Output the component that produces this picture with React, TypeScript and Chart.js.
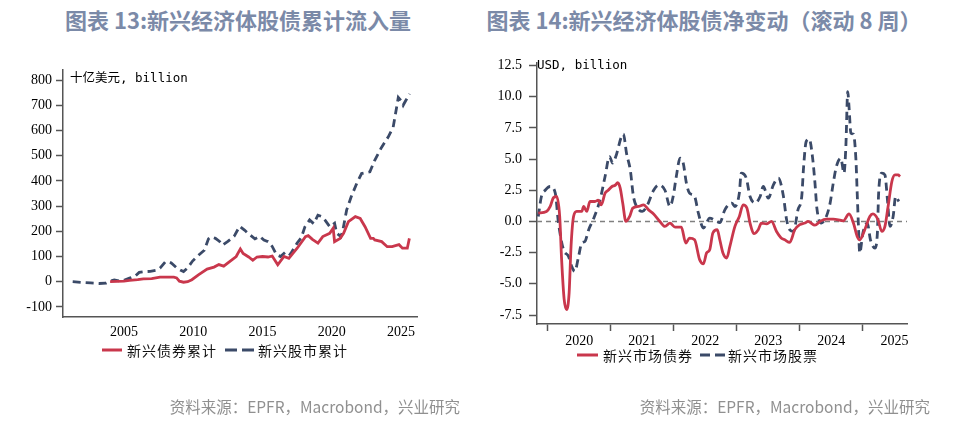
import React, { useEffect, useRef } from "react";
import { Chart, registerables } from "chart.js";

Chart.register(...registerables);

// ---------- Left chart: cumulative flows (USD bn) ----------
const bondCumYears = [2004.0, 2004.5, 2005.0, 2005.4, 2006.0, 2006.4, 2007.0, 2007.6, 2008.0, 2008.6, 2008.8, 2009.0, 2009.3, 2009.6, 2009.9, 2010.4, 2011.0, 2011.5, 2011.85, 2012.2, 2012.6, 2013.1, 2013.4, 2013.6, 2014.0, 2014.3, 2014.6, 2015.0, 2015.4, 2015.7, 2016.1, 2016.55, 2016.9, 2017.5, 2018.1, 2018.3, 2018.6, 2019.0, 2019.35, 2019.85, 2020.1, 2020.2, 2020.6, 2020.85, 2021.2, 2021.7, 2022.05, 2022.4, 2022.8, 2023.0, 2023.1, 2023.6, 2024.0, 2024.35, 2024.85, 2025.1, 2025.45, 2025.6];
const bondCumValues = [0, 1, 2, 5, 8, 11, 12, 18, 18, 18, 15, 2, -2, 0, 8, 28, 50, 58, 68, 62, 79, 100, 130, 112, 98, 85, 98, 100, 98, 102, 67, 100, 93, 133, 179, 183, 168, 153, 179, 192, 212, 159, 172, 192, 238, 258, 251, 218, 172, 172, 166, 159, 139, 139, 147, 133, 133, 172];

const equityCumYears = [2001.3, 2002.0, 2002.6, 2003.2, 2003.7, 2004.0, 2004.3, 2004.7, 2005.0, 2005.4, 2005.8, 2006.1, 2006.5, 2006.9, 2007.3, 2007.6, 2008.0, 2008.4, 2008.8, 2009.1, 2009.3, 2009.6, 2009.95, 2010.4, 2010.8, 2011.1, 2011.3, 2011.6, 2011.9, 2012.1, 2012.5, 2012.95, 2013.35, 2013.7, 2014.0, 2014.45, 2014.8, 2015.1, 2015.4, 2015.7, 2016.0, 2016.3, 2016.7, 2017.0, 2017.5, 2017.8, 2018.06, 2018.4, 2018.7, 2019.0, 2019.3, 2019.5, 2019.86, 2020.2, 2020.35, 2020.66, 2020.8, 2021.07, 2021.4, 2021.8, 2022.15, 2022.75, 2023.1, 2023.6, 2024.07, 2024.43, 2024.68, 2024.8, 2025.0, 2025.15, 2025.35, 2025.63];
const equityCumValues = [0, -3, -5, -7, -6, 2, 7, 3, 6, 14, 22, 37, 40, 41, 45, 54, 80, 75, 55, 45, 40, 55, 82, 106, 125, 170, 178, 172, 160, 145, 160, 180, 220, 205, 190, 170, 180, 165, 159, 140, 108, 100, 120, 108, 153, 175, 218, 245, 230, 264, 258, 245, 218, 232, 193, 179, 205, 284, 337, 390, 429, 436, 482, 534, 574, 613, 692, 731, 718, 700, 720, 745];

const leftXTicks = [2005, 2010, 2015, 2020, 2025];
const leftYTicks = [-100, 0, 100, 200, 300, 400, 500, 600, 700, 800];

// ---------- Right chart: net change, rolling 8 weeks (USD bn) ----------
const bondNetYears = [2019.85, 2019.98, 2020.04, 2020.09, 2020.14, 2020.19, 2020.22, 2020.26, 2020.30, 2020.34, 2020.37, 2020.41, 2020.46, 2020.54, 2020.57, 2020.62, 2020.67, 2020.75, 2020.80, 2020.85, 2020.91, 2020.96, 2021.02, 2021.07, 2021.11, 2021.15, 2021.19, 2021.24, 2021.30, 2021.35, 2021.44, 2021.52, 2021.60, 2021.68, 2021.78, 2021.86, 2021.94, 2022.02, 2022.12, 2022.19, 2022.25, 2022.33, 2022.41, 2022.47, 2022.52, 2022.57, 2022.62, 2022.69, 2022.73, 2022.78, 2022.84, 2022.89, 2022.97, 2023.04, 2023.10, 2023.16, 2023.21, 2023.27, 2023.34, 2023.39, 2023.47, 2023.55, 2023.63, 2023.70, 2023.76, 2023.84, 2023.92, 2024.00, 2024.08, 2024.13, 2024.24, 2024.32, 2024.42, 2024.53, 2024.69, 2024.78, 2024.85, 2024.91, 2024.95, 2025.03, 2025.11, 2025.16, 2025.24, 2025.30, 2025.35, 2025.40, 2025.46, 2025.51, 2025.56, 2025.59];
const bondNetValues = [0.67, 0.8, 1.2, 1.9, 2.0, 0.4, -3.0, -6.2, -7.06, -5.7, -2.0, 0.4, 0.8, 0.8, 1.2, 0.8, 1.6, 1.6, 1.7, 1.33, 2.27, 2.5, 2.8, 2.9, 3.1, 2.67, 1.47, 0, 0.4, 1.07, 1.2, 1.33, 0.93, 0.6, 0, -0.4, -0.13, -0.45, -0.45, -1.73, -1.33, -1.47, -3.06, -3.4, -2.53, -2.26, -0.93, -0.66, -1.47, -2.53, -2.93, -2.0, -0.4, 0.4, 1.33, 1.07, -0.13, -0.98, -0.66, -0.13, -0.2, 0.0, -0.8, -1.3, -1.47, -1.68, -0.66, -0.26, -0.13, 0, -0.3, 0, 0.19, 0.19, 0.05, 0.6, -0.13, -1.2, -1.47, -0.66, 0.4, 0.6, 0.13, -0.8, -0.4, 1.2, 3.2, 3.73, 3.73, 3.6];

const equityNetYears = [2019.85, 2019.90, 2019.96, 2020.04, 2020.12, 2020.17, 2020.25, 2020.33, 2020.38, 2020.43, 2020.49, 2020.54, 2020.59, 2020.65, 2020.72, 2020.83, 2020.91, 2020.98, 2021.03, 2021.08, 2021.17, 2021.20, 2021.25, 2021.31, 2021.36, 2021.41, 2021.50, 2021.57, 2021.68, 2021.76, 2021.86, 2021.94, 2021.99, 2022.04, 2022.10, 2022.15, 2022.20, 2022.25, 2022.33, 2022.39, 2022.47, 2022.57, 2022.65, 2022.73, 2022.81, 2022.92, 2022.97, 2023.04, 2023.07, 2023.15, 2023.21, 2023.29, 2023.37, 2023.42, 2023.50, 2023.58, 2023.66, 2023.74, 2023.79, 2023.84, 2023.90, 2023.97, 2024.03, 2024.06, 2024.10, 2024.15, 2024.20, 2024.24, 2024.27, 2024.34, 2024.42, 2024.48, 2024.53, 2024.58, 2024.65, 2024.70, 2024.73, 2024.76, 2024.78, 2024.81, 2024.85, 2024.89, 2024.91, 2024.93, 2024.95, 2025.00, 2025.07, 2025.12, 2025.19, 2025.23, 2025.25, 2025.30, 2025.35, 2025.39, 2025.43, 2025.48, 2025.52, 2025.57];
const equityNetValues = [0.4, 2.0, 2.5, 2.8, 2.27, -0.1, -2.26, -2.8, -3.6, -4.0, -2.8, -1.73, -1.6, -0.66, 0.13, 1.73, 3.6, 5.2, 4.67, 5.2, 6.8, 7.0, 5.47, 4.13, 2.0, 1.2, 0.8, 1.2, 2.5, 2.93, 2.5, 1.2, 2.0, 3.6, 5.07, 4.67, 3.07, 2.27, 2.0, 0.67, -0.53, 0.27, 0.1, -0.1, 0.93, 1.47, 1.2, 2.27, 3.87, 3.47, 2.0, 1.47, 2.0, 2.8, 1.87, 2.93, 3.47, 2.0, 0.13, -0.67, -0.8, 0.93, 2.0, 4.4, 6.4, 6.6, 5.2, 3.07, 1.07, -0.13, 0.4, 1.47, 3.07, 4.4, 5.07, 3.87, 6.0, 10.4, 9.2, 7.07, 7.0, 4.93, 2.27, -0.4, -2.53, -0.93, -0.13, -1.47, -2.13, -0.93, 2.27, 3.87, 3.73, 1.73, -0.4, 0.4, 2.0, 1.6];

const rightXTicks = [2020, 2021, 2022, 2023, 2024, 2025];
const rightYTicks = [-7.5, -5, -2.5, 0, 2.5, 5, 7.5, 10, 12.5];

// ---------- Styles ----------
const RED = "#c9374c";
const NAVY = "#3b4a68";
const AXIS = "#555555";
const TITLE = "#7b8aa8";
const SERIF = "'Liberation Serif', 'Times New Roman', serif";
const CJK = "'Noto Sans CJK SC', 'Noto Sans', sans-serif";
const MONO = "'DejaVu Sans Mono', 'Liberation Mono', 'Noto Sans CJK SC', monospace";

const zip = (xs: number[], ys: number[]) => xs.map((x, i) => ({ x, y: ys[i] }));

const zeroLine = {
  id: "zeroLine",
  beforeDatasetsDraw(chart: any) {
    const ys = chart.scales.y;
    const { left, right } = chart.chartArea;
    const y = ys.getPixelForValue(0);
    const ctx = chart.ctx;
    ctx.save();
    ctx.setLineDash([5, 4]);
    ctx.strokeStyle = "#808080";
    ctx.lineWidth = 1.5;
    ctx.beginPath();
    ctx.moveTo(left, y);
    ctx.lineTo(right, y);
    ctx.stroke();
    ctx.restore();
  },
};

function LeftChart() {
  const ref = useRef<HTMLCanvasElement | null>(null);
  useEffect(() => {
    if (!ref.current) return;
    const chart = new Chart(ref.current, {
      type: "line",
      data: {
        datasets: [
          {
            label: "新兴债券累计",
            data: zip(bondCumYears, bondCumValues),
            borderColor: RED,
            borderWidth: 2.8,
            pointRadius: 0,
            tension: 0,
          },
          {
            label: "新兴股市累计",
            data: zip(equityCumYears, equityCumValues),
            borderColor: NAVY,
            borderWidth: 2.8,
            borderDash: [8, 5],
            pointRadius: 0,
            tension: 0,
          },
        ],
      },
      options: {
        animation: false,
        responsive: false,
        maintainAspectRatio: false,
        layout: { padding: { left: 0, right: 63, top: 70, bottom: 0 } },
        plugins: { legend: { display: false }, tooltip: { enabled: false } },
        scales: {
          x: {
            type: "linear",
            min: 2000.6,
            max: 2026.15,
            afterBuildTicks: (s: any) => {
              s.ticks = leftXTicks.map((v) => ({ value: v }));
            },
            afterFit: (s: any) => {
              s.height = 104;
            },
            grid: { display: false, drawTicks: false },
            border: { display: true, color: AXIS, width: 1.5 },
            ticks: {
              color: "#000",
              font: { family: SERIF, size: 14 },
              padding: 7,
              maxRotation: 0,
              autoSkip: false,
              callback: (v: any) => String(v),
            },
          },
          y: {
            type: "linear",
            min: -140,
            max: 840,
            afterBuildTicks: (s: any) => {
              s.ticks = leftYTicks.map((v) => ({ value: v }));
            },
            afterFit: (s: any) => {
              s.width = 63;
            },
            grid: { drawOnChartArea: false, drawTicks: true, tickLength: 7, color: AXIS, tickColor: AXIS, tickWidth: 1.5 },
            border: { display: true, color: AXIS, width: 1.5 },
            ticks: {
              color: "#000",
              font: { family: SERIF, size: 14 },
              padding: 4,
              autoSkip: false,
              callback: (v: any) => String(v),
            },
          },
        },
      } as any,
    });
    return () => chart.destroy();
  }, []);
  return <canvas ref={ref} width={480} height={421} style={{ position: "absolute", left: 0, top: 0, width: 480, height: 421, display: "block" }} />;
}

function RightChart() {
  const ref = useRef<HTMLCanvasElement | null>(null);
  useEffect(() => {
    if (!ref.current) return;
    const chart = new Chart(ref.current, {
      type: "line",
      data: {
        datasets: [
          {
            label: "新兴市场债券",
            data: zip(bondNetYears, bondNetValues),
            borderColor: RED,
            borderWidth: 2.8,
            pointRadius: 0,
            cubicInterpolationMode: "monotone",
          },
          {
            label: "新兴市场股票",
            data: zip(equityNetYears, equityNetValues),
            borderColor: NAVY,
            borderWidth: 2.8,
            borderDash: [8, 5],
            pointRadius: 0,
            cubicInterpolationMode: "monotone",
          },
        ],
      },
      options: {
        animation: false,
        responsive: false,
        maintainAspectRatio: false,
        layout: { padding: { left: 0, right: 52, top: 63, bottom: 0 } },
        plugins: { legend: { display: false }, tooltip: { enabled: false } },
        scales: {
          x: {
            type: "linear",
            min: 2019.83,
            max: 2025.7,
            afterBuildTicks: (s: any) => {
              s.ticks = rightXTicks.map((v) => ({ value: v }));
            },
            afterFit: (s: any) => {
              s.height = 97;
            },
            grid: { drawOnChartArea: false, drawTicks: true, tickLength: 7, color: AXIS, tickColor: AXIS, tickWidth: 1.5 },
            border: { display: true, color: AXIS, width: 1.5 },
            ticks: {
              color: "#000",
              font: { family: SERIF, size: 14 },
              padding: 2,
              labelOffset: 31.5,
              maxRotation: 0,
              autoSkip: false,
              callback: (v: any) => String(v),
            },
          },
          y: {
            type: "linear",
            min: -8.22,
            max: 12.7,
            afterBuildTicks: (s: any) => {
              s.ticks = rightYTicks.map((v) => ({ value: v }));
            },
            afterFit: (s: any) => {
              s.width = 57;
            },
            grid: { drawOnChartArea: false, drawTicks: true, tickLength: 8, color: AXIS, tickColor: AXIS, tickWidth: 1.5 },
            border: { display: true, color: AXIS, width: 1.5 },
            ticks: {
              color: "#000",
              font: { family: SERIF, size: 14 },
              padding: 7,
              autoSkip: false,
              callback: (v: any) => Number(v).toFixed(1),
            },
          },
        },
      } as any,
      plugins: [zeroLine],
    });
    return () => chart.destroy();
  }, []);
  return <canvas ref={ref} width={479} height={421} style={{ position: "absolute", left: 480, top: 0, width: 479, height: 421, display: "block" }} />;
}

const abs = (s: React.CSSProperties): React.CSSProperties => ({ position: "absolute", whiteSpace: "nowrap", ...s });

function Legend({ left, top, items }: { left: number; top: number; items: { label: string; color: string; dash?: string; w: number; gapBefore: number; gapAfter: number }[] }) {
  return (
    <div style={abs({ left, top, height: 18, display: "flex", alignItems: "center", fontFamily: CJK, fontSize: 14, letterSpacing: 1, color: "#111" })}>
      {items.map((it, i) => (
        <React.Fragment key={i}>
          <svg width={it.w} height={6} style={{ marginLeft: it.gapBefore, display: "block" }}>
            <line x1={0} y1={3} x2={it.w} y2={3} stroke={it.color} strokeWidth={3} strokeDasharray={it.dash} />
          </svg>
          <span style={{ marginLeft: it.gapAfter, lineHeight: "18px" }}>{it.label}</span>
        </React.Fragment>
      ))}
    </div>
  );
}

export default function App() {
  return (
    <div style={{ position: "absolute", left: 0, top: 0, width: 959, height: 421, background: "#fff", overflow: "hidden" }}>
      <div style={abs({ left: 0, top: 4, width: 476, textAlign: "center", fontFamily: CJK, fontWeight: 700, fontSize: 22, lineHeight: "30px", color: TITLE })}>
        图表 13:新兴经济体股债累计流入量
      </div>
      <div style={abs({ left: 454, top: 4, width: 500, textAlign: "center", fontFamily: CJK, fontWeight: 700, fontSize: 22, lineHeight: "30px", color: TITLE })}>
        图表 14:新兴经济体股债净变动（滚动 8 周）
      </div>
      <LeftChart />
      <RightChart />
      <div style={abs({ left: 70, top: 70, fontFamily: MONO, fontSize: 12.5, lineHeight: "16px", color: "#000" })}>十亿美元, billion</div>
      <div style={abs({ left: 537, top: 57, fontFamily: MONO, fontSize: 12.5, lineHeight: "16px", color: "#000" })}>USD, billion</div>
      <Legend
        left={102}
        top={341}
        items={[
          { label: "新兴债券累计", color: RED, w: 20, gapBefore: 0, gapAfter: 5 },
          { label: "新兴股市累计", color: NAVY, dash: "12 5", w: 30, gapBefore: 8, gapAfter: 3 },
        ]}
      />
      <Legend
        left={577}
        top={346}
        items={[
          { label: "新兴市场债券", color: RED, w: 21, gapBefore: 0, gapAfter: 5 },
          { label: "新兴市场股票", color: NAVY, dash: "10 5", w: 26, gapBefore: 7, gapAfter: 2 },
        ]}
      />
      <div style={abs({ right: 499, top: 396, fontFamily: CJK, fontSize: 15.5, lineHeight: "20px", color: "#909090" })}>资料来源：EPFR，Macrobond，兴业研究</div>
      <div style={abs({ right: 29, top: 396, fontFamily: CJK, fontSize: 15.5, lineHeight: "20px", color: "#909090" })}>资料来源：EPFR，Macrobond，兴业研究</div>
    </div>
  );
}
